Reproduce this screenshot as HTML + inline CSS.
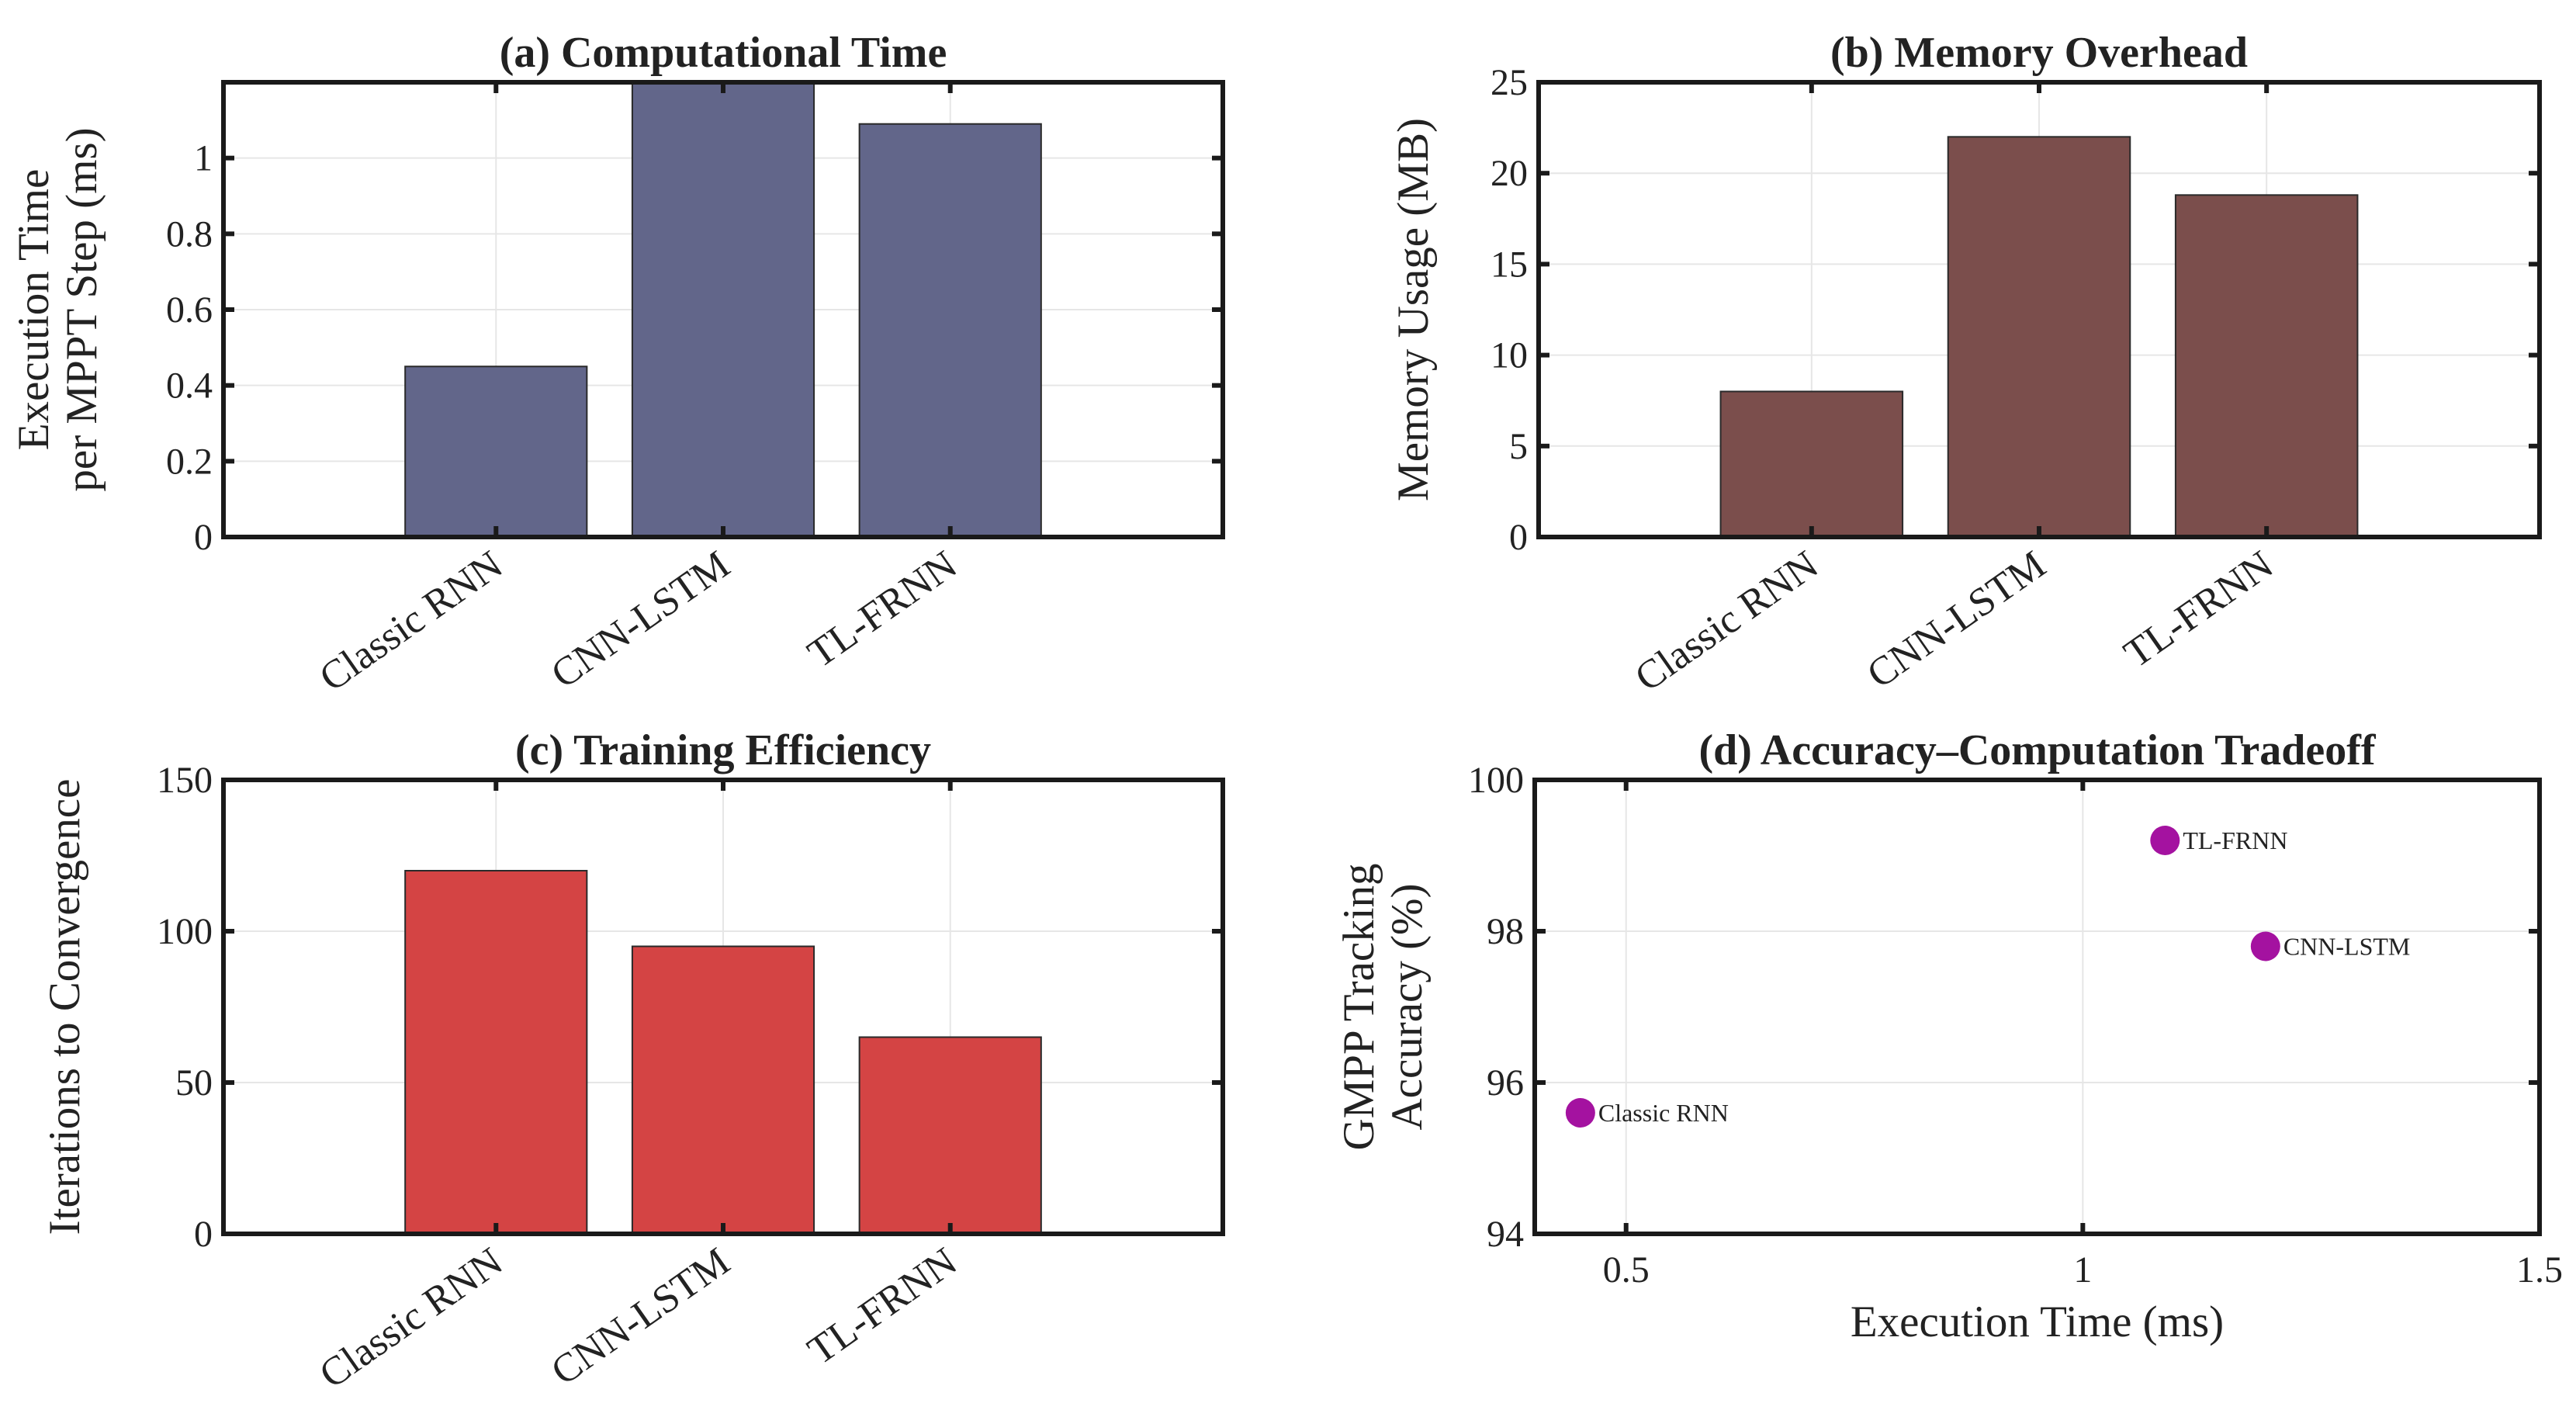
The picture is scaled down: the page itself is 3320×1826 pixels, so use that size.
<!DOCTYPE html>
<html><head><meta charset="utf-8"><style>
html,body{margin:0;padding:0;background:#fff}
svg{display:block;font-family:"Liberation Serif",serif}
</style></head><body>
<svg id="fig" width="3320" height="1826" viewBox="0 0 3320 1826" xmlns="http://www.w3.org/2000/svg"></svg>
<script>
const categories = ["Classic RNN","CNN-LSTM","TL-FRNN"];
const timeValues = [0.45, 1.2, 1.09];
const memoryValues = [8, 22, 18.8];
const iterValues = [120, 95, 65];
const timeTicks = [0,0.2,0.4,0.6,0.8,1];
const memTicks = [0,5,10,15,20,25];
const iterTicks = [0,50,100,150];
const scatterX = [0.45, 1.2, 1.09];
const scatterY = [95.6, 97.8, 99.2];
const scatterXTicks = [0.5,1,1.5];
const scatterYTicks = [94,96,98,100];

const NS="http://www.w3.org/2000/svg";
const svg=document.getElementById('fig');
function mk(tag,attrs,parent,text){const e=document.createElementNS(NS,tag);for(const k in attrs)e.setAttribute(k,attrs[k]);if(text!==undefined)e.textContent=text;(parent||svg).appendChild(e);return e;}

function panel(o){
  const g=mk('g',{});
  
  
  const L=o.l,R=o.r,T=o.t,B=o.b;
  const sx=v=>L+(v-o.xmin)/(o.xmax-o.xmin)*(R-L);
  const sy=v=>B-(v-o.ymin)/(o.ymax-o.ymin)*(B-T);
  o.xgrid.forEach(v=>{const e=mk('line',{x1:sx(v),x2:sx(v),y1:T,y2:B,stroke:'#e6e6e6','stroke-width':2},g);});
  o.yticks.forEach(v=>{const e=mk('line',{x1:L,x2:R,y1:sy(v),y2:sy(v),stroke:'#e6e6e6','stroke-width':2},g);});
  if(o.values){o.values.forEach((v,i)=>{const x0=sx(i+1-0.4),x1=sx(i+1+0.4);const top=Math.max(sy(v),T);
    const e=mk('rect',{x:x0,y:top,width:x1-x0,height:B-top,fill:o.color,stroke:'#2a2a2a','stroke-width':2},g);
    
    });}
  if(o.px){o.px.forEach((v,i)=>{const cx=sx(v),cy=sy(o.py[i]);
    const c=mk('circle',{cx:cx,cy:cy,r:19,fill:'#a412a0'},g);
    
    
    const t=mk('text',{x:cx+23,y:cy+11,'font-size':32,fill:'#222'},g,categories[i]);
    
    });}
  const f=mk('rect',{x:L,y:T,width:R-L,height:B-T,fill:'none',stroke:'#1a1a1a','stroke-width':6},g);
  
  o.yticks.forEach(v=>{const y=sy(v);
    mk('line',{x1:L,x2:L+14,y1:y,y2:y,stroke:'#1a1a1a','stroke-width':6},g);
    mk('line',{x1:R,x2:R-14,y1:y,y2:y,stroke:'#1a1a1a','stroke-width':6},g);
    const t=mk('text',{x:L-14,y:y+16,'font-size':48,'text-anchor':'end',fill:'#222'},g,String(v));
    });
  o.xticks.forEach((v,i)=>{const x=sx(v);
    mk('line',{x1:x,x2:x,y1:B,y2:B-14,stroke:'#1a1a1a','stroke-width':6},g);
    mk('line',{x1:x,x2:x,y1:T,y2:T+14,stroke:'#1a1a1a','stroke-width':6},g);
    let t;
    if(o.values){t=mk('text',{x:x+12,y:B+44,'font-size':52,'text-anchor':'end',fill:'#222',transform:`rotate(-35 ${x+12} ${B+44})`},g,o.xlabels[i]);}
    else{t=mk('text',{x:x,y:B+62,'font-size':48,'text-anchor':'middle',fill:'#222'},g,o.xlabels[i]);}
    });
  const tt=mk('text',{x:(L+R)/2,y:T-20,'font-size':56,'font-weight':'bold','text-anchor':'middle',fill:'#222'},g,o.title);
  
  const yl=mk('text',{transform:`translate(${o.ylx} ${(T+B)/2}) rotate(-90)`,'font-size':57,'text-anchor':'middle',fill:'#222'},g);
  
  o.ylabel.forEach((s,i)=>{mk('tspan',{x:0,dy:i==0?0:62},yl,s);});
  if(o.xtitle){const xt=mk('text',{x:(L+R)/2,y:B+132,'font-size':57,'text-anchor':'middle',fill:'#222'},g,o.xtitle);
    }
}
const catX=[1,2,3];
panel({name:'panel-computational-time',l:288,r:1576,t:106,b:692,xmin:-0.2,xmax:4.2,ymin:0,ymax:1.2,yticks:timeTicks,xticks:catX,xgrid:catX,xlabels:categories,values:timeValues,color:'#62668a',title:'(a) Computational Time',ylabel:['Execution Time','per MPPT Step (ms)'],ylx:62});
panel({name:'panel-memory-overhead',l:1983,r:3273,t:106,b:692,xmin:-0.2,xmax:4.2,ymin:0,ymax:25,yticks:memTicks,xticks:catX,xgrid:catX,xlabels:categories,values:memoryValues,color:'#7b4e4c',title:'(b) Memory Overhead',ylabel:['Memory Usage (MB)'],ylx:1840});
panel({name:'panel-training-efficiency',l:288,r:1576,t:1005,b:1590,xmin:-0.2,xmax:4.2,ymin:0,ymax:150,yticks:iterTicks,xticks:catX,xgrid:catX,xlabels:categories,values:iterValues,color:'#d44444',title:'(c) Training Efficiency',ylabel:['Iterations to Convergence'],ylx:102});
panel({name:'panel-accuracy-tradeoff',l:1978,r:3273,t:1005,b:1590,xmin:0.4,xmax:1.5,ymin:94,ymax:100,yticks:scatterYTicks,xticks:scatterXTicks,xgrid:scatterXTicks,xlabels:scatterXTicks.map(String),px:scatterX,py:scatterY,title:'(d) Accuracy–Computation Tradeoff',ylabel:['GMPP Tracking','Accuracy (%)'],ylx:1770,xtitle:'Execution Time (ms)'});
</script>
</body></html>
